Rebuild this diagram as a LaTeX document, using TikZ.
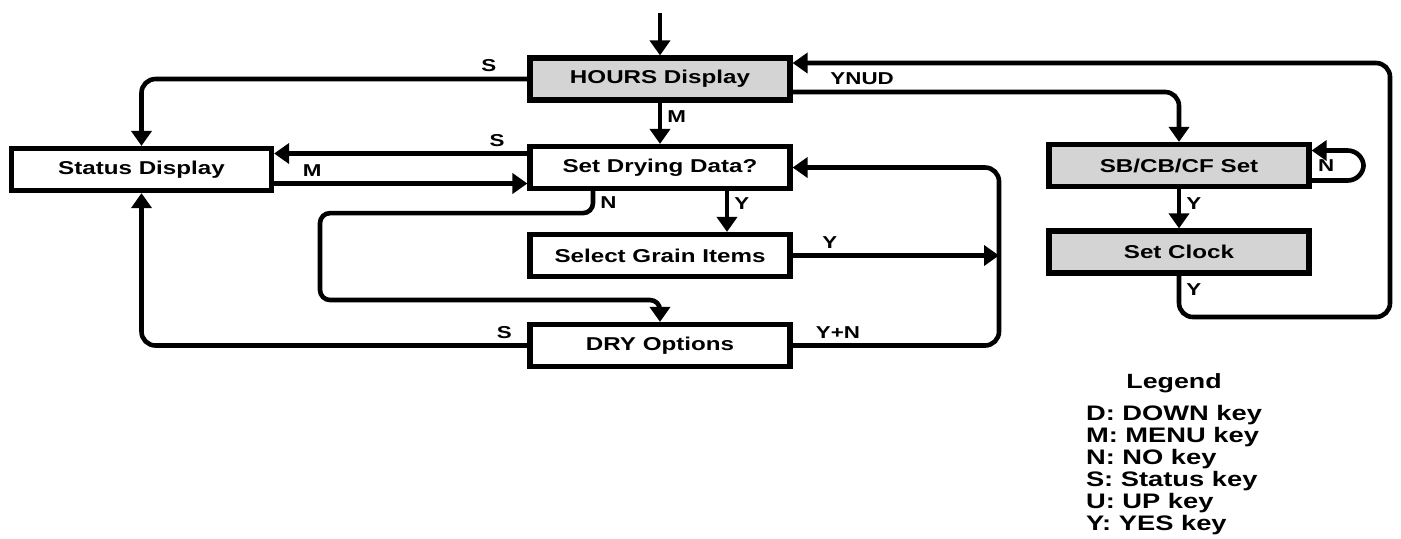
\documentclass[tikz,border=0pt]{standalone}
\usepackage{fontspec}
\setmainfont[FakeStretch=1.3]{Liberation Sans}
\usetikzlibrary{positioning,calc,arrows.meta}
\tikzset{
  stateBox/.style={
    rectangle,
    draw=black,
    line width=2.6pt,
    fill=white,
    minimum width=130pt,
    minimum height=21pt,
    inner sep=2pt,
    font=\fontsize{9.3}{11}\selectfont\bfseries,
    align=center
  },
  setupBox/.style={
    stateBox,
    fill=black!17
  },
  arrowLine/.style={
    -{Triangle[length=7.5pt,width=10pt]},
    line width=2.3pt,
    rounded corners=7pt
  },
  keyLabel/.style={
    font=\fontsize{8.6}{10}\selectfont\bfseries,
    inner sep=2.5pt
  },
  legendTitle/.style={
    font=\fontsize{10.3}{12}\selectfont\bfseries,
    inner sep=0pt
  },
  legendBody/.style={
    font=\fontsize{10.5}{11}\selectfont\bfseries,
    align=left,
    inner sep=0pt
  }
}

\begin{document}
\begin{tikzpicture}[x=0.5pt,y=-0.5pt]
  \useasboundingbox (0,0) rectangle (1401,538);

  \node[setupBox] (hours) at (660,79) {HOURS Display};
  \node[stateBox] (drying) at (660,167.5) {Set Drying Data?};
  \node[stateBox] (grain) at (660,255.5) {Select Grain Items};
  \node[stateBox] (dryopt) at (660,345.5) {DRY Options};
  \node[stateBox] (status) at (141.5,169.5) {Status Display};
  \node[setupBox] (sbset) at (1179,165.5) {SB/CB/CF Set};
  \node[setupBox] (clock) at (1179,252) {Set Clock};

  \coordinate (start) at (660,13);
  \coordinate (join) at (999,255.5);
  \coordinate (corner) at (1390,317);

  \draw[arrowLine] (start) -- (hours);
  \draw[arrowLine] (hours.west) -| node[keyLabel, pos=0.05, above]{S} (status.north);
  \draw[arrowLine] (hours) -- node[keyLabel, pos=0.35, right]{M} (drying);
  \draw[arrowLine] ([yshift=7pt]drying.west) -- node[keyLabel, pos=0.12, above]{S} ([yshift=7pt]drying.west -| status.east);
  \draw[arrowLine] ([yshift=-7pt]status.east) -- node[keyLabel, pos=0.15, above]{M} ([yshift=-7pt]status.east -| drying.west);
  \draw[arrowLine, rounded corners=5pt] ([xshift=-33.5pt]drying.south) -- node[keyLabel, midway, right]{N} ++(0,22) -| (320,300) -| (dryopt.north);
  \draw[arrowLine] ([xshift=33.5pt]drying.south) -- node[keyLabel, pos=0.3, right]{Y} ([xshift=33.5pt]drying.south |- grain.north);
  \draw[arrowLine] (grain.east) -- node[keyLabel, pos=0.18, above]{Y} (join);
  \draw[arrowLine] (dryopt.east) -| node[keyLabel, pos=0.11, above]{Y+N} (drying.east -| join) -- (drying.east);
  \draw[arrowLine] (dryopt.west) -| node[keyLabel, pos=0.03, above]{S} (status.south);

  \draw[arrowLine] ([yshift=-6.5pt]hours.east) -| node[keyLabel, pos=0.09, above]{YNUD} (sbset.north);
  \draw[arrowLine, rounded corners=8pt] ([yshift=-7.5pt]sbset.east) -- ++(52,0) |- node[keyLabel, pos=0.25, left=11pt]{N} ([yshift=7.5pt]sbset.east);
  \draw[arrowLine] (sbset) -- node[keyLabel, pos=0.37, right]{Y} (clock);
  \draw[arrowLine] (clock.south) |- node[keyLabel, pos=0.17, right]{Y} (corner) |- ([yshift=8pt]hours.east);

  \node[legendTitle] (legendTitle) at (1174,383) {Legend};
  \node[legendBody, below=6pt of legendTitle] (legend) {D: DOWN key\\M: MENU key\\N: NO key\\S: Status key\\U: UP key\\Y: YES key};
\end{tikzpicture}
\end{document}
